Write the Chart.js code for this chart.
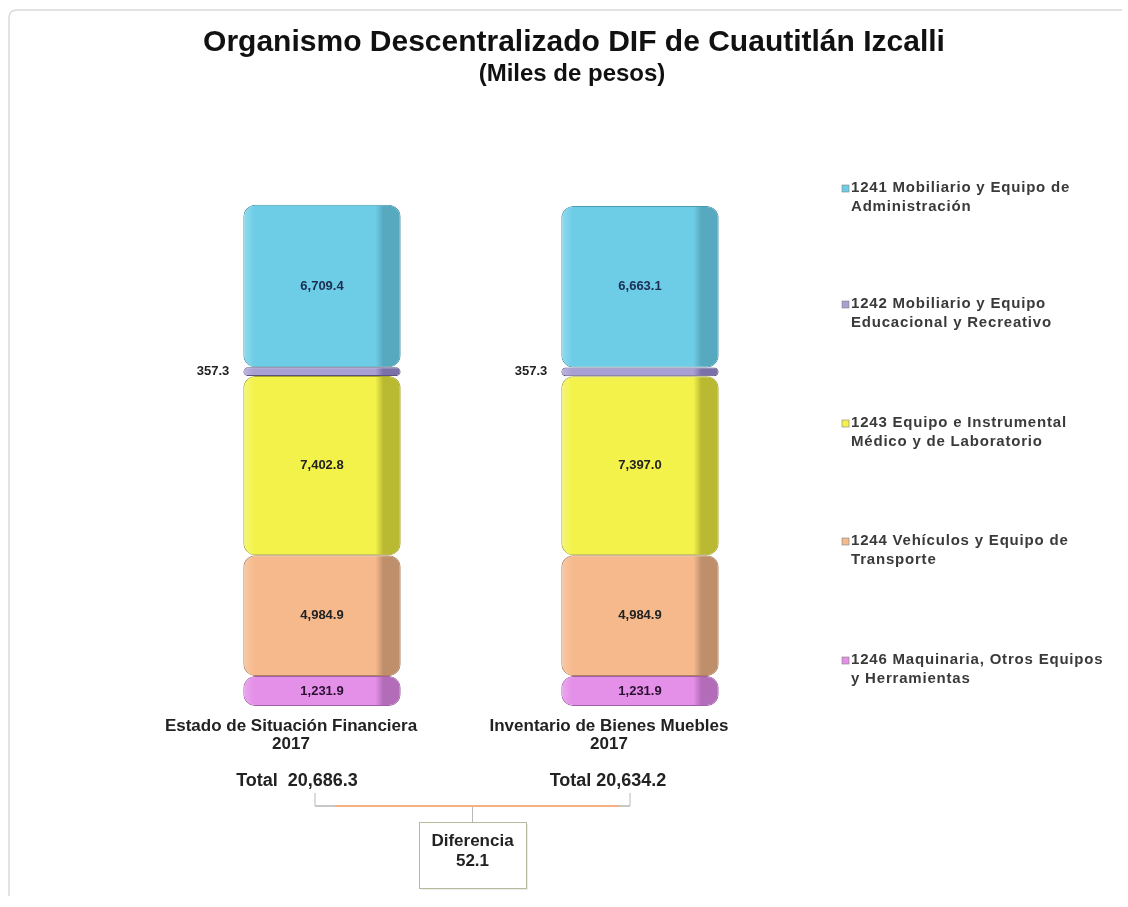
<!DOCTYPE html>
<html>
<head>
<meta charset="utf-8">
<script src="https://cdn.jsdelivr.net/npm/chart.js@4/dist/chart.umd.min.js"></script>
<style>
  html, body { margin: 0; padding: 0; background: #ffffff; }
  canvas { display: block; }
</style>
</head>
<body>
<canvas id="c" width="1128" height="907"></canvas>
<script>
// ---------- DATA ----------
const categories = [
  ["Estado de Situación Financiera", "2017"],
  ["Inventario de Bienes Muebles", "2017"]
];
const v1241 = [6709.4, 6663.1];
const v1242 = [357.3, 357.3];
const v1243 = [7402.8, 7397.0];
const v1244 = [4984.9, 4984.9];
const v1246 = [1231.9, 1231.9];

const name1241 = ["1241 Mobiliario y Equipo de", "Administración"];
const name1242 = ["1242 Mobiliario y Equipo", "Educacional y Recreativo"];
const name1243 = ["1243 Equipo e Instrumental", "Médico y de Laboratorio"];
const name1244 = ["1244 Vehículos y Equipo de", "Transporte"];
const name1246 = ["1246 Maquinaria, Otros Equipos", "y Herramientas"];

const titleText = "Organismo Descentralizado DIF de Cuautitlán Izcalli";
const subtitleText = "(Miles de pesos)";
const totalLabel = "Total";
const diffLabel = "Diferencia";

// ---------- STYLE ----------
const FONT = "'Liberation Sans', Arial, sans-serif";
const CAT_PCT = 0.9, BAR_PCT = 0.55;

const fmt = v => v.toLocaleString('en-US', {minimumFractionDigits: 1, maximumFractionDigits: 1});

function shade(base, light, dark) {
  return function (ctx) {
    const c = ctx.chart;
    if (ctx.type !== 'data' || !c.chartArea || !c.scales || !c.scales.x) return base;
    const sx = c.scales.x;
    const x = sx.getPixelForValue(ctx.dataIndex);
    const w = (sx.width / categories.length) * CAT_PCT * BAR_PCT;
    const left = x - w / 2;
    const g = c.ctx.createLinearGradient(left, 0, left + w, 0);
    g.addColorStop(0, light);
    g.addColorStop(0.07, base);
    g.addColorStop(0.84, base);
    g.addColorStop(0.89, dark);
    g.addColorStop(1, dark);
    return g;
  };
}

const series = [
  {key: '1246', data: v1246, names: name1246, base: '#e48fe8', light: '#eba8ee', dark: '#b36cb8', border: '#a060a8', label: '#2a1030'},
  {key: '1244', data: v1244, names: name1244, base: '#f6b98c', light: '#f8caa6', dark: '#bf8f6c', border: '#b08060', label: '#222222'},
  {key: '1243', data: v1243, names: name1243, base: '#f2f24a', light: '#f6f67a', dark: '#b9b932', border: '#a8a82c', label: '#222222'},
  {key: '1242', data: v1242, names: name1242, base: '#a89fd2', light: '#beb6e0', dark: '#7b70a8', border: '#5d5080', label: '#222222'},
  {key: '1241', data: v1241, names: name1241, base: '#6dcde6', light: '#92dbee', dark: '#56a9bf', border: '#4c9ab0', label: '#1c2e52'}
];

const datasets = series.map(s => ({
  label: s.names.join(' '),
  data: s.data,
  backgroundColor: shade(s.base, s.light, s.dark),
  borderColor: s.border,
  borderWidth: 1,
  borderSkipped: false,
  borderRadius: {topLeft: 12, topRight: 12, bottomLeft: 12, bottomRight: 12},
  categoryPercentage: CAT_PCT,
  barPercentage: BAR_PCT
}));

const decor = {
  id: 'decor',
  beforeDraw(chart) {
    const c = chart.ctx;
    c.save();
    c.fillStyle = '#ffffff';
    c.fillRect(0, 0, chart.width, chart.height);
    c.strokeStyle = '#dadada';
    c.lineWidth = 1.5;
    c.beginPath();
    c.moveTo(9, 896);
    c.lineTo(9, 18);
    c.quadraticCurveTo(9, 10, 17, 10);
    c.lineTo(1122, 10);
    c.stroke();
    // title + subtitle
    c.fillStyle = '#111111';
    c.textAlign = 'center';
    c.textBaseline = 'middle';
    c.font = 'bold 30px ' + FONT;
    c.fillText(titleText, 574, 43);
    c.font = 'bold 24px ' + FONT;
    c.fillText(subtitleText, 572, 74);
    c.restore();
  },
  afterDatasetsDraw(chart) {
    const c = chart.ctx;
    c.save();
    // value labels
    chart.data.datasets.forEach((ds, i) => {
      const meta = chart.getDatasetMeta(i);
      const s = series[i];
      meta.data.forEach((el, j) => {
        const yc = (el.y + el.base) / 2;
        const txt = fmt(ds.data[j]);
        c.font = 'bold 13px ' + FONT;
        c.textBaseline = 'middle';
        if (s.key === '1242') {
          c.textAlign = 'right';
          c.fillStyle = '#222222';
          c.fillText(txt, el.x - el.width / 2 - 14, yc);
        } else {
          c.textAlign = 'center';
          c.fillStyle = s.label;
          c.fillText(txt, el.x, yc);
        }
      });
    });

    // legend (top to bottom: 1241 ... 1246)
    const legendOrder = series.slice().reverse();
    const ys = [188, 304, 423, 541, 660];
    legendOrder.forEach((s, k) => {
      const y = ys[k];
      c.fillStyle = s.base;
      c.fillRect(842, y - 3, 7, 7);
      c.strokeStyle = '#808080';
      c.lineWidth = 0.6;
      c.strokeRect(842, y - 3, 7, 7);
      c.font = 'bold 15px ' + FONT;
      c.letterSpacing = '0.8px';
      c.fillStyle = '#3a3a3a';
      c.textAlign = 'left';
      c.textBaseline = 'middle';
      s.names.forEach((line, li) => c.fillText(line, 851, y + li * 19));
      c.letterSpacing = '0px';
    });

    // totals and difference
    const sx = chart.scales.x;
    const totals = categories.map((_, j) => series.reduce((acc, s) => acc + s.data[j], 0));
    const diff = totals[0] - totals[1];
    c.font = 'bold 18px ' + FONT;
    c.fillStyle = '#222222';
    c.textAlign = 'center';
    c.textBaseline = 'middle';
    const tx = categories.map((_, j) => sx.getPixelForValue(j));
    c.fillText(totalLabel + '  ' + fmt(totals[0]), tx[0] - 25, 781);
    c.fillText(totalLabel + ' ' + fmt(totals[1]), tx[1] - 32, 781);

    const bl = tx[0] - 7, br = tx[1] - 10, by = 806;
    const mid = (bl + br) / 2;
    c.strokeStyle = '#b8b8b8';
    c.lineWidth = 1;
    c.beginPath();
    c.moveTo(bl, 793); c.lineTo(bl, by);
    c.moveTo(br, 793); c.lineTo(br, by);
    c.moveTo(mid, by); c.lineTo(mid, 822);
    c.stroke();
    c.strokeStyle = '#f4b183';
    c.lineWidth = 2;
    c.beginPath();
    c.moveTo(bl + 20, by); c.lineTo(br - 10, by);
    c.stroke();
    c.strokeStyle = '#c8c8c8';
    c.beginPath();
    c.moveTo(bl, by); c.lineTo(bl + 20, by);
    c.moveTo(br - 10, by); c.lineTo(br, by);
    c.stroke();

    const bw = 107, bh = 66, bx = mid - bw / 2, byy = 822;
    c.fillStyle = 'rgba(0,0,0,0.08)';
    c.fillRect(bx + 2, byy + 2, bw, bh);
    c.fillStyle = '#ffffff';
    c.fillRect(bx, byy, bw, bh);
    c.strokeStyle = '#b9b99e';
    c.lineWidth = 1;
    c.strokeRect(bx + 0.5, byy + 0.5, bw, bh);
    c.font = 'bold 17px ' + FONT;
    c.fillStyle = '#222222';
    c.fillText(diffLabel, mid, 841);
    c.fillText(fmt(diff), mid, 861);
    c.restore();
  }
};

new Chart(document.getElementById('c'), {
  type: 'bar',
  data: { labels: categories, datasets: datasets },
  options: {
    responsive: false,
    animation: false,
    devicePixelRatio: 1,
    layout: { padding: { left: 163, right: 329, top: 173, bottom: 143 } },
    plugins: {
      legend: { display: false },
      tooltip: { enabled: false },
      title: { display: false },
      subtitle: { display: false }
    },
    scales: {
      x: {
        stacked: true,
        grid: { display: false, drawTicks: false },
        border: { display: false },
        ticks: {
          color: '#222222',
          padding: 11,
          labelOffset: -31,
          maxRotation: 0,
          font: { family: FONT, size: 17, weight: 'bold', lineHeight: 1.06 }
        }
      },
      y: {
        stacked: true,
        display: false,
        min: 0,
        max: 22000
      }
    }
  },
  plugins: [decor]
});
</script>
</body>
</html>
